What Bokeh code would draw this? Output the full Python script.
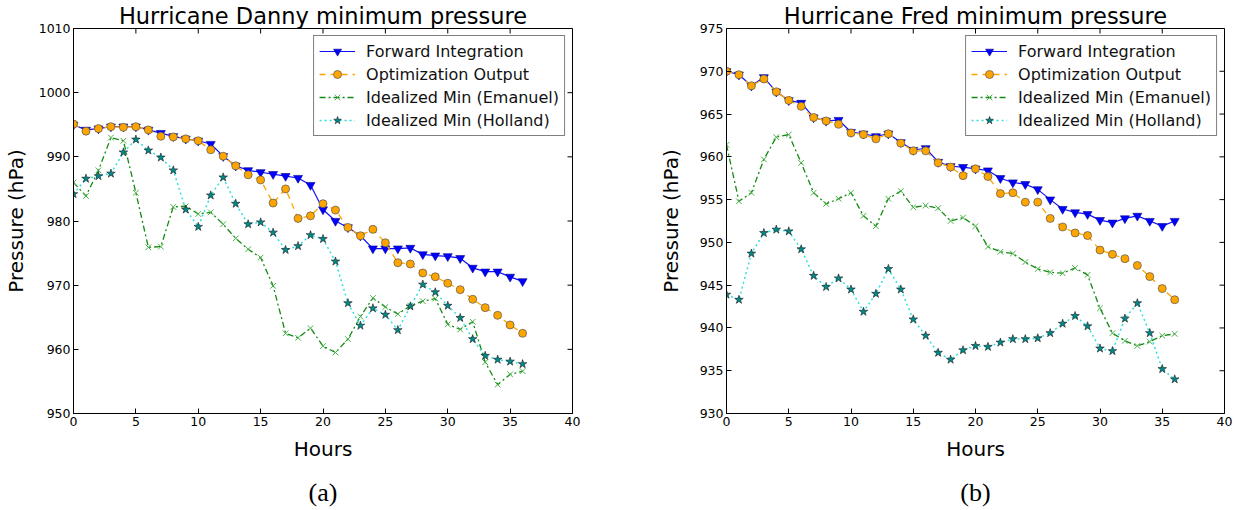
import math
from bokeh.plotting import figure
from bokeh.models import (Range1d, SingleIntervalTicker, FixedTicker, LinearAxis,
                          Legend, LegendItem)
from bokeh.layouts import row
from bokeh.embed import file_html
from bokeh.resources import INLINE

hours = list(range(37))
x_ticks = [0, 5, 10, 15, 20, 25, 30, 35, 40]
danny_y_ticks = [950, 960, 970, 980, 990, 1000, 1010]
fred_y_ticks = [930, 935, 940, 945, 950, 955, 960, 965, 970, 975]

danny_forward = [995.0, 994.2, 994.4, 994.7, 994.7, 994.7, 994.2, 993.7, 993.2, 992.8,
                 992.5, 992.0, 990.1, 988.6, 987.9, 987.6, 987.3, 987.0, 986.7, 985.6,
                 981.8, 980.0, 979.0, 977.7, 975.7, 975.7, 975.7, 975.8, 974.8, 974.6,
                 974.5, 974.2, 972.7, 972.1, 972.1, 971.3, 970.6]
danny_optim = [995.1, 994.0, 994.4, 994.7, 994.6, 994.7, 994.2, 993.2, 993.1, 992.8,
               992.5, 991.1, 990.1, 988.6, 987.2, 986.4, 982.8, 985.0, 980.4, 980.8,
               982.7, 981.7, 979.0, 977.7, 978.7, 976.6, 973.5, 973.3, 971.9, 971.3,
               970.3, 969.3, 967.8, 966.5, 965.3, 963.8, 962.5]
danny_emanuel = [986.0, 983.9, 987.9, 993.0, 992.5, 984.4, 975.9, 976.0, 982.2, 982.3,
                 981.1, 981.35, 979.5, 977.3, 975.6, 974.3, 969.9, 962.5, 961.8, 963.3,
                 960.5, 959.5, 961.6, 965.1, 968.0, 966.6, 965.5, 966.8, 967.5, 967.9,
                 963.9, 963.1, 964.3, 958.0, 954.5, 956.1, 956.6]
danny_holland = [984.2, 986.6, 987.0, 987.4, 990.7, 992.7, 991.0, 989.9, 987.9, 981.8,
                 979.1, 984.0, 986.8, 982.7, 979.5, 979.8, 978.2, 975.5, 976.1, 977.8,
                 977.2, 973.7, 967.2, 963.7, 966.4, 965.4, 963.0, 966.7, 970.1, 968.9,
                 966.8, 964.9, 961.6, 959.0, 958.4, 958.1, 957.7]

fred_forward = [970.0, 969.6, 968.3, 969.3, 967.6, 966.6, 966.3, 964.6, 964.2, 964.3,
                962.9, 962.7, 962.4, 962.7, 961.7, 960.8, 961.0, 959.4, 958.9, 958.8,
                958.6, 958.4, 957.5, 957.0, 956.8, 956.2, 955.0, 953.9, 953.5, 953.3,
                952.6, 952.3, 952.8, 953.1, 952.5, 951.9, 952.5]
fred_optim = [970.0, 969.6, 968.3, 969.1, 967.6, 966.6, 965.9, 964.6, 964.2, 963.8,
              962.8, 962.6, 962.1, 962.7, 961.6, 960.7, 960.7, 959.3, 958.8, 957.8,
              958.6, 957.7, 955.7, 955.8, 954.7, 954.7, 952.8, 951.8, 951.1, 950.8,
              949.1, 948.6, 948.1, 947.3, 946.0, 944.6, 943.3]
fred_emanuel = [961.4, 954.8, 955.8, 959.7, 962.3, 962.6, 959.3, 955.8, 954.5, 955.1,
                955.8, 953.1, 951.9, 955.1, 956.0, 954.1, 954.3, 954.0, 952.5, 952.9,
                951.9, 949.5, 948.9, 948.7, 947.7, 946.9, 946.5, 946.4, 947.0, 946.2,
                942.3, 939.4, 938.5, 937.9, 938.4, 939.1, 939.3]
fred_holland = [943.9, 943.3, 948.7, 951.1, 951.5, 951.3, 949.2, 946.1, 944.8, 945.8,
                944.5, 941.9, 944.0, 946.9, 944.5, 941.0, 939.1, 937.1, 936.3, 937.4,
                937.9, 937.8, 938.3, 938.7, 938.7, 938.8, 939.4, 940.5, 941.4, 940.2,
                937.6, 937.3, 941.1, 942.9, 939.4, 935.2, 934.0]

series_labels = ["Forward Integration", "Optimization Output",
                 "Idealized Min (Emanuel)", "Idealized Min (Holland)"]

FONT = "DejaVu Sans"


def style_axis(ax):
    ax.major_tick_in = 5
    ax.major_tick_out = 0
    ax.minor_tick_in = 0
    ax.minor_tick_out = 0
    ax.axis_line_color = "black"
    ax.major_tick_line_color = "black"
    ax.major_label_text_color = "black"
    ax.major_label_text_font = FONT
    ax.major_label_text_font_size = "12.5px"
    ax.axis_label_text_font = FONT
    ax.axis_label_text_font_style = "normal"
    ax.axis_label_text_font_size = "20px"
    ax.axis_label_text_color = "black"


def make_fig(title, y_ticks, fwd, opt, ema, hol, width, mbl, mbr,
             caption, ylabel_standoff):
    ylo, yhi = y_ticks[0], y_ticks[-1]
    xlo, xhi = x_ticks[0], x_ticks[-1]
    p = figure(width=width, height=509, x_range=Range1d(xlo, xhi),
               y_range=Range1d(ylo, yhi), output_backend="svg",
               toolbar_location=None, min_border_left=mbl, min_border_right=mbr,
               min_border_top=27, min_border_bottom=95)
    p.title.text = title
    p.title.text_font = FONT
    p.title.text_font_size = "22.5px"
    p.title.text_font_style = "normal"
    p.title.align = "center"
    p.title.standoff = 0
    p.title.text_color = "black"

    p.xgrid.visible = False
    p.ygrid.visible = False
    p.outline_line_color = "black"
    p.outline_line_width = 1
    p.background_fill_color = "white"
    p.border_fill_color = "white"

    p.xaxis.ticker = SingleIntervalTicker(interval=x_ticks[1] - x_ticks[0])
    p.yaxis.ticker = SingleIntervalTicker(interval=y_ticks[1] - y_ticks[0])
    p.xaxis.axis_label = "Hours"
    p.yaxis.axis_label = "Pressure (hPa)"
    for ax in p.xaxis + p.yaxis:
        style_axis(ax)
    p.xaxis.major_label_standoff = 3
    p.xaxis.axis_label_standoff = 8
    p.yaxis.major_label_standoff = 3
    p.yaxis.axis_label_standoff = ylabel_standoff

    # sub-figure caption, placed as a tick-less axis label below "Hours"
    cap_axis = LinearAxis(ticker=FixedTicker(ticks=[], minor_ticks=[]),
                          axis_label=caption, axis_line_color=None,
                          major_tick_line_color=None, minor_tick_line_color=None,
                          axis_label_standoff=14,
                          axis_label_text_font="Liberation Serif",
                          axis_label_text_font_size="26px",
                          axis_label_text_font_style="normal",
                          axis_label_text_color="black")
    p.add_layout(cap_axis, "below")

    # inward ticks on the top and right spines
    p.ray(x=x_ticks, y=[yhi] * len(x_ticks), length=5, length_units="screen",
          angle=-math.pi / 2, line_color="black", line_width=1)
    p.ray(x=[xhi] * len(y_ticks), y=y_ticks, length=5, length_units="screen",
          angle=math.pi, line_color="black", line_width=1)

    l1 = p.line(hours, fwd, line_color="#1010ff", line_width=1.2)
    m1 = p.scatter(hours, fwd, marker="inverted_triangle", size=9,
                   fill_color="#0000ff", line_color="#00008b", line_width=0.6)
    l2 = p.line(hours, opt, line_color="#ffa500", line_width=1.3, line_dash="6 5")
    m2 = p.scatter(hours, opt, marker="circle", size=8,
                   fill_color="#ffa500", line_color="#555555", line_width=0.7)
    l3 = p.line(hours, ema, line_color="#138a13", line_width=1.3,
                line_dash="6 3 2 3")
    m3 = p.scatter(hours, ema, marker="x", size=8, line_color="#48b048",
                   line_width=1)
    l4 = p.line(hours, hol, line_color="#30e0e0", line_width=1.5, line_dash="2 3")
    m4 = p.scatter(hours, hol, marker="star", size=9,
                   fill_color="#008b8b", line_color="#1a1a1a", line_width=0.6)

    legend = Legend(items=[
        LegendItem(label=series_labels[0], renderers=[l1, m1]),
        LegendItem(label=series_labels[1], renderers=[l2, m2]),
        LegendItem(label=series_labels[2], renderers=[l3, m3]),
        LegendItem(label=series_labels[3], renderers=[l4, m4]),
    ], location="top_right")
    legend.margin = 7
    legend.padding = 5
    legend.spacing = 3
    legend.glyph_width = 36
    legend.glyph_height = 20
    legend.label_height = 20
    legend.label_standoff = 11
    legend.label_text_font = FONT
    legend.label_text_font_size = "16px"
    legend.label_text_color = "#111111"
    legend.border_line_color = "black"
    legend.border_line_width = 1
    legend.background_fill_color = "white"
    legend.background_fill_alpha = 1
    p.add_layout(legend, "center")
    return p


p1 = make_fig("Hurricane Danny minimum pressure", danny_y_ticks,
              danny_forward, danny_optim, danny_emanuel, danny_holland,
              width=648, mbl=72, mbr=76, caption="(a)", ylabel_standoff=8)
p2 = make_fig("Hurricane Fred minimum pressure", fred_y_ticks,
              fred_forward, fred_optim, fred_emanuel, fred_holland,
              width=592, mbl=78, mbr=16, caption="(b)", ylabel_standoff=14)

layout = row(p1, p2)
open("out.html", "w").write(file_html(layout, INLINE))
